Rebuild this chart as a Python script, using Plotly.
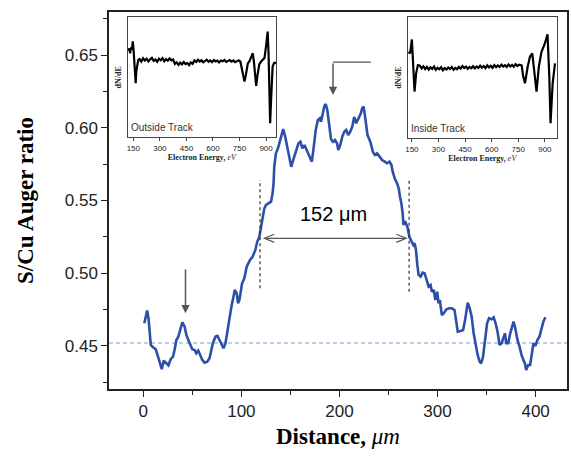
import plotly.graph_objects as go

# ---------------- main profile data ----------------
distance_um = [1, 2.5, 3.9, 5.3, 6.6, 7.6, 9.9, 12.7, 15.0, 16.8, 18.8, 20.8, 23.6, 25.6, 27.9, 30.3,
               32.0, 33.7, 35.7, 37.8, 39.8, 42.1, 43.9, 45.9, 47.9, 49.9, 52.3, 54.0, 56.0, 58.1, 60.1,
               62.4, 65.2, 67.5, 69.2, 70.9, 73.6, 75.6, 77.7, 79.7, 81.7, 83.8, 86.1, 87.8, 89.8, 91.9,
               93.2, 95.2, 96.6, 98.0, 99.3,
               100.7, 103.0, 105.4, 108.8, 111.5, 114.2, 116.2, 118.3, 120.0, 121.6, 123.4, 125.1, 127.7,
               130.2, 131.8, 132.8, 133.5, 135.2, 137.3, 139.3, 141.3, 142.6, 144.7, 147.0, 149.4, 150.8,
               152.8, 155.5, 158.2, 160.2, 162.2, 164.3, 166.3, 169.0, 171.8, 173.8, 175.8, 177.9, 179.9,
               181.2, 182.5, 184.6, 186.0, 187.6, 189.3, 191.4, 193.4, 195.4, 197.5, 198.8, 200.8, 202.8,
               204.9, 206.9, 208.9, 211.0, 213.0, 215.0, 217.1, 219.1, 220.5, 221.8, 223.1, 224.6, 225.9,
               227.2, 228.6, 230.7, 232.0, 234.0, 236.0, 238.4, 240.8, 243.5, 246.2, 248.5, 251.0, 253.0,
               254.3, 256.3, 258.7, 260.4, 261.7, 263.1, 264.5, 265.2, 266.8, 268.0, 269.2, 271.3, 273.3,
               275.3, 276.6, 278.0, 279.4, 280.7, 282.7, 284.8, 286.8, 288.8, 290.9, 292.9, 294.2, 296.2,
               297.7, 299.7, 301.0, 302.3, 304.4, 306.4, 309.1, 311.9, 314.5, 317.3, 318.6, 320.6, 323.4,
               326.1, 328.1, 329.4, 330.8, 332.8, 334.8, 336.8, 338.9, 340.9, 342.9, 344.4, 346.4, 348.4,
               350.5, 352.5, 355.1, 357.2, 359.2, 361.2, 363.2, 365.3, 367.3, 368.7, 370.1, 372.1, 374.1,
               376.1, 377.5, 378.9, 380.2, 381.5, 383.6, 385.6, 387.6, 389.0, 390.4, 392.4, 394.4, 395.7,
               397.8, 399.8, 401.8, 403.9, 405.9, 407.9, 410.0]
s_cu_ratio = [0.4656, 0.4701, 0.4743, 0.4690, 0.4610, 0.4507, 0.4491, 0.4477, 0.4426, 0.4392, 0.4340,
              0.4399, 0.4376, 0.4367, 0.4409, 0.4426, 0.4477, 0.4541, 0.4564, 0.4622, 0.4663, 0.4633,
              0.4576, 0.4541, 0.4507, 0.4477, 0.4472, 0.4450, 0.4468, 0.4431, 0.4404, 0.4385, 0.4392,
              0.4415, 0.4472, 0.4519, 0.4564, 0.4569, 0.4541, 0.4514, 0.4484, 0.4519, 0.4622, 0.4679,
              0.4770, 0.4839, 0.4885, 0.4862, 0.4793, 0.4816, 0.4885,
              0.4931, 0.4965, 0.5045, 0.5091, 0.5114, 0.5160, 0.5217, 0.5251, 0.5309, 0.5389, 0.5446,
              0.5469, 0.5481, 0.5492, 0.5549, 0.5618, 0.5732, 0.5824, 0.5859, 0.5916, 0.5973, 0.5991,
              0.5938, 0.5859, 0.5778, 0.5732, 0.5778, 0.5835, 0.5893, 0.5904, 0.5859, 0.5881, 0.5847,
              0.5801, 0.5767, 0.5870, 0.5985, 0.6053, 0.6065, 0.6042, 0.6088, 0.6149, 0.6163, 0.6122,
              0.6031, 0.5921, 0.5904, 0.5916, 0.5893, 0.5847, 0.5881, 0.5938, 0.5973, 0.5985, 0.5950,
              0.5973, 0.6007, 0.6074, 0.6031, 0.6060, 0.6076, 0.6099, 0.6134, 0.6145, 0.6088, 0.6007,
              0.5950, 0.5916, 0.5893, 0.5835, 0.5813, 0.5824, 0.5801, 0.5778, 0.5767, 0.5756, 0.5767,
              0.5744, 0.5698, 0.5653, 0.5618, 0.5584, 0.5526, 0.5481, 0.5407, 0.5332, 0.5359, 0.5332,
              0.5320, 0.5251, 0.5217, 0.5194, 0.5206, 0.5160, 0.5057, 0.4988, 0.4976, 0.5004, 0.5000,
              0.4954, 0.4908, 0.4919, 0.4873, 0.4885, 0.4816, 0.4873, 0.4793, 0.4816, 0.4713, 0.4725,
              0.4752, 0.4759, 0.4759, 0.4747, 0.4679, 0.4598, 0.4603, 0.4610, 0.4679, 0.4747, 0.4798,
              0.4759, 0.4701, 0.4587, 0.4495, 0.4438, 0.4392, 0.4381, 0.4426, 0.4541, 0.4656, 0.4690,
              0.4683, 0.4697, 0.4656, 0.4598, 0.4507, 0.4519, 0.4564, 0.4587, 0.4519, 0.4519, 0.4587,
              0.4644, 0.4667, 0.4633, 0.4587, 0.4541, 0.4495, 0.4438, 0.4404, 0.4381, 0.4335, 0.4369,
              0.4369, 0.4426, 0.4519, 0.4500, 0.4541, 0.4564, 0.4622, 0.4667, 0.4697]

baseline_ratio = 0.452
edge_left_um = 119
edge_right_um = 271
width_label = "152 μm"

# ---------------- inset spectra (dN/dE, arbitrary units) ----------------
out_energy = [122, 127, 132, 137, 142, 147, 151, 155, 159, 163.5, 167, 172, 178,
              185, 195, 205, 215, 225, 235, 245, 255, 265, 275, 285, 295, 305, 315, 325, 335, 345, 355,
              365, 375, 385, 395, 405, 415, 425, 435, 445, 455, 465, 475, 485, 495, 505, 515, 525, 535,
              545, 555, 565, 575, 585, 595, 605, 615, 625, 635, 645, 655, 665, 675, 685, 695, 705, 715,
              725, 735, 745,
              755, 762, 770, 778, 786, 797, 805, 815, 825, 832, 838, 844, 852, 862, 872, 882, 891, 900,
              909, 914, 918, 923, 928, 937, 946, 956]
out_dnde = [0.72, 0.74, 0.70, 0.75, 0.73, 0.80, 0.74, 0.62, 0.52, 0.45, 0.55, 0.62, 0.645,
            0.652, 0.630, 0.658, 0.640, 0.655, 0.632, 0.650, 0.661, 0.637, 0.648, 0.629, 0.655, 0.642,
            0.660, 0.633, 0.651, 0.638, 0.657, 0.641, 0.648, 0.612, 0.625, 0.603, 0.622, 0.608, 0.627,
            0.610, 0.618, 0.601, 0.624, 0.612, 0.640, 0.628, 0.646, 0.631, 0.642, 0.625, 0.638, 0.647,
            0.630, 0.641, 0.626, 0.644, 0.632, 0.639, 0.624, 0.640, 0.634, 0.645, 0.628, 0.637, 0.643,
            0.631, 0.640, 0.626, 0.638, 0.642,
            0.63, 0.58, 0.50, 0.464, 0.52, 0.617, 0.63, 0.66, 0.70, 0.62, 0.50, 0.428, 0.52, 0.61,
            0.631, 0.645, 0.66, 0.76, 0.881, 0.70, 0.35, 0.117, 0.30, 0.589, 0.62, 0.62]

in_energy = [131, 140, 150, 156, 165, 174, 184,
             195, 205, 215, 225, 235, 245, 255, 265, 275, 285, 295, 305, 315, 325, 335, 345, 355, 365,
             375, 385, 395, 405, 415, 425, 435, 445, 455, 465, 475, 485, 495, 505, 515, 525, 535, 545,
             555, 565, 575, 585, 595, 605, 615, 625, 635, 645, 655, 665, 675, 685, 695, 705, 715, 725,
             735, 745, 755,
             769, 778, 788, 803, 816, 829, 841, 853, 866, 881, 900, 915, 925, 932, 944, 957]
in_dnde = [0.712, 0.699, 0.814, 0.671, 0.384, 0.534, 0.603,
           0.598, 0.575, 0.592, 0.570, 0.588, 0.566, 0.584, 0.571, 0.590, 0.563, 0.580, 0.568, 0.585,
           0.560, 0.578, 0.566, 0.583, 0.570, 0.586, 0.564, 0.579, 0.569, 0.588, 0.574, 0.595, 0.578,
           0.590, 0.572, 0.587, 0.576, 0.593, 0.575, 0.591, 0.579, 0.598, 0.582, 0.595, 0.577, 0.600,
           0.584, 0.597, 0.580, 0.603, 0.586, 0.600, 0.588, 0.606, 0.590, 0.602, 0.587, 0.608, 0.592,
           0.604, 0.589, 0.610, 0.595, 0.606,
           0.600, 0.507, 0.452, 0.589, 0.671, 0.699, 0.562, 0.384, 0.589, 0.712, 0.781, 0.858, 0.507,
           0.123, 0.452, 0.616]

inset_ticks = [150, 300, 450, 600, 750, 900]

# ---------------- figure ----------------
SERIF = "Liberation Serif"
SANS = "Liberation Sans"
BLUE = "#2c50a8"

fig = go.Figure()
fig.add_trace(go.Scatter(x=distance_um, y=s_cu_ratio, mode="lines",
                         line=dict(color=BLUE, width=2.6), showlegend=False,
                         xaxis="x", yaxis="y"))
fig.add_trace(go.Scatter(x=out_energy, y=out_dnde, mode="lines",
                         line=dict(color="black", width=2.2), showlegend=False,
                         xaxis="x2", yaxis="y2"))
fig.add_trace(go.Scatter(x=in_energy, y=in_dnde, mode="lines",
                         line=dict(color="black", width=2.2), showlegend=False,
                         xaxis="x3", yaxis="y3"))

inset_x_common = dict(showline=True, linecolor="#444", linewidth=1, mirror=True,
                      ticks="outside", ticklen=3, tickcolor="#444", tickvals=inset_ticks,
                      tickfont=dict(family=SANS, size=8, color="#222"), showgrid=False,
                      zeroline=False, title_standoff=2)
inset_y_common = dict(showline=True, linecolor="#444", linewidth=1, mirror=True,
                      showticklabels=False, ticks="", showgrid=False, zeroline=False,
                      range=[0, 1], title_standoff=3,
                      title=dict(text="<b>dN/dE</b>", font=dict(family=SERIF, size=8, color="#222")))
etitle = dict(text="<b>Electron Energy,</b> <i>eV</i>", font=dict(family=SERIF, size=8, color="#222"))

fig.update_layout(
    width=571, height=458,
    margin=dict(l=109, r=2, t=12, b=69),
    paper_bgcolor="white", plot_bgcolor="white",
    xaxis=dict(range=[-35, 432], tickvals=[0, 100, 200, 300, 400],
               showline=True, linecolor="#222", linewidth=1.5, mirror=True,
               ticks="outside", ticklen=6, tickwidth=1.3, tickcolor="#222",
               minor=dict(dtick=50, tick0=0, ticks="outside", ticklen=4, tickcolor="#222"),
               tickfont=dict(family=SANS, size=17, color="#222"),
               showgrid=False, zeroline=False,
               title=dict(text="<b>Distance,</b> <i>μm</i>",
                          font=dict(family=SERIF, size=23, color="black"), standoff=8)),
    yaxis=dict(range=[0.4204, 0.6796], dtick=0.05, tick0=0.45, tickformat=".2f",
               showline=True, linecolor="#222", linewidth=1.5, mirror=True,
               ticks="outside", ticklen=6, tickwidth=1.3, tickcolor="#222",
               minor=dict(dtick=0.025, tick0=0.425, ticks="outside", ticklen=4, tickcolor="#222"),
               tickfont=dict(family=SANS, size=17, color="#222"),
               showgrid=False, zeroline=False,
               title=dict(text="<b>S/Cu Auger ratio</b>",
                          font=dict(family=SERIF, size=23, color="black"), standoff=25)),
    xaxis2=dict(domain=[0.0407, 0.3646], anchor="y2", range=[118, 956], title=etitle, **inset_x_common),
    yaxis2=dict(domain=[0.6676, 0.986], anchor="x2", **inset_y_common),
    xaxis3=dict(domain=[0.652, 0.978], anchor="y3", range=[126, 968], title=etitle, **inset_x_common),
    yaxis3=dict(domain=[0.6658, 0.9867], anchor="x3", **inset_y_common),
)

# baseline dashed line
fig.add_shape(type="line", xref="x domain", yref="y", x0=0, x1=1, y0=baseline_ratio, y1=baseline_ratio,
              line=dict(color="#78a4d6", width=1.1, dash="4px,3px"), layer="below")
# dotted edge markers
fig.add_shape(type="line", xref="x", yref="y", x0=edge_left_um, x1=edge_left_um, y0=0.4897, y1=0.5641,
              line=dict(color="#333", width=1.2, dash="dot"))
fig.add_shape(type="line", xref="x", yref="y", x0=edge_right_um, x1=edge_right_um, y0=0.4873, y1=0.5653,
              line=dict(color="#333", width=1.2, dash="dot"))

# double-headed width arrow
arr_y = 0.524
xl, xr = 123.5, 268
fig.add_shape(type="line", xref="x", yref="y", x0=xl, x1=xr, y0=arr_y, y1=arr_y,
              line=dict(color="#555", width=1.2))
fig.add_shape(type="path", xref="x", yref="y",
              path=f"M {xl+10},{arr_y+0.0028} L {xl},{arr_y} L {xl+10},{arr_y-0.0028}",
              line=dict(color="#555", width=1.2))
fig.add_shape(type="path", xref="x", yref="y",
              path=f"M {xr-10},{arr_y+0.0028} L {xr},{arr_y} L {xr-10},{arr_y-0.0028}",
              line=dict(color="#555", width=1.2))
fig.add_annotation(x=194, y=0.5405, xref="x", yref="y", text=width_label, showarrow=False,
                   font=dict(family=SANS, size=20, color="black"))

# arrow to outside-track region
fig.add_annotation(x=43, y=0.4725, ax=43, ay=0.5036, xref="x", yref="y", axref="x", ayref="y",
                   text="", showarrow=True, arrowhead=2, arrowsize=1.1, arrowwidth=1.5, arrowcolor="#555")
# arrow to inside-track region (from inset)
fig.add_shape(type="line", xref="x", yref="y", x0=232, x1=193.4, y0=0.6452, y1=0.6452,
              line=dict(color="#555", width=1.3))
fig.add_annotation(x=193.4, y=0.6225, ax=193.4, ay=0.6452, xref="x", yref="y", axref="x", ayref="y",
                   text="", showarrow=True, arrowhead=2, arrowsize=1.1, arrowwidth=1.5, arrowcolor="#555")

# inset labels
fig.add_annotation(x=0.01, y=0.02, xref="x2 domain", yref="y2 domain", text="Outside Track",
                   showarrow=False, xanchor="left", yanchor="bottom",
                   font=dict(family=SANS, size=10, color="#333"))
fig.add_annotation(x=0.01, y=0.02, xref="x3 domain", yref="y3 domain", text="Inside Track",
                   showarrow=False, xanchor="left", yanchor="bottom",
                   font=dict(family=SANS, size=10, color="#333"))

fig.write_html("out.html", config={"displayModeBar": False},
               post_script="document.body.style.margin='0px';")
